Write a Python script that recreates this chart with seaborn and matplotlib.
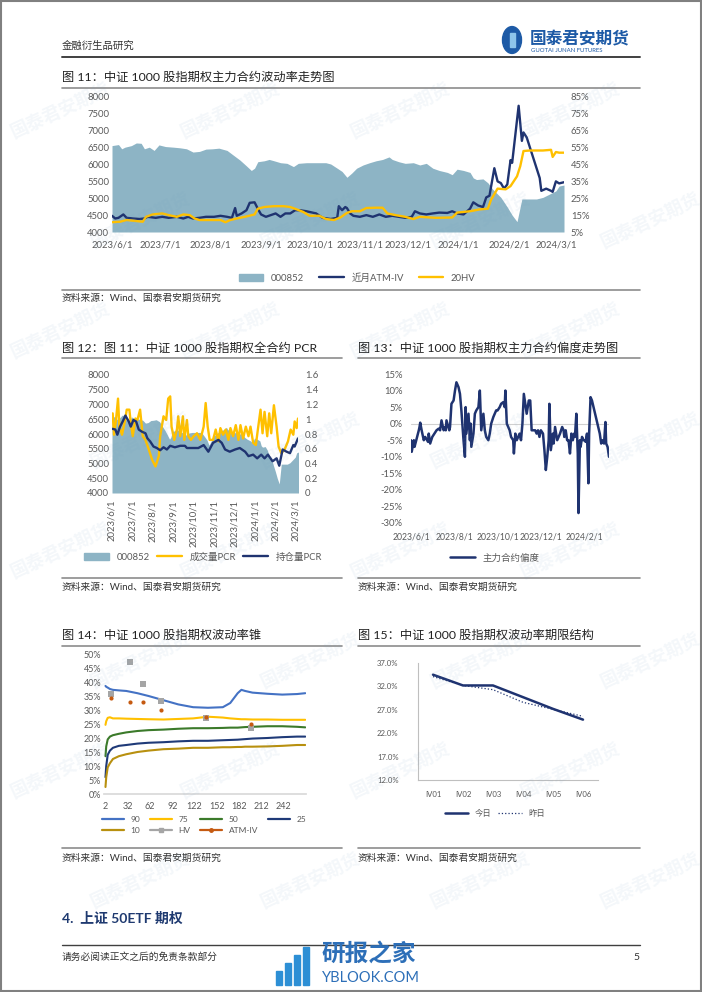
import numpy as np
import pandas as pd
import matplotlib
matplotlib.use("Agg")
import matplotlib.pyplot as plt
from matplotlib.patches import Patch, Circle, Rectangle
from matplotlib.lines import Line2D
from matplotlib.ticker import FuncFormatter
import seaborn as sns

sns.set_theme(style="white")
plt.rcParams["font.family"] = ["Lato", "Noto Sans CJK SC", "DejaVu Sans"]
plt.rcParams["axes.unicode_minus"] = False

# ---------------- data ----------------
# 000852 index (shared by fig 11 and fig 12)
idx_dates = ["2023-06-01", "2023-06-05", "2023-06-07", "2023-06-09", "2023-06-13", "2023-06-16", "2023-06-19", "2023-06-21", "2023-06-24", "2023-06-27", "2023-06-30",
             "2023-07-04", "2023-07-09", "2023-07-13", "2023-07-17", "2023-07-21", "2023-07-25", "2023-07-29",
             "2023-08-02", "2023-08-06", "2023-08-11", "2023-08-15", "2023-08-19", "2023-08-23", "2023-08-26", "2023-08-28", "2023-08-30",
             "2023-09-03", "2023-09-06", "2023-09-09", "2023-09-13", "2023-09-17", "2023-09-21", "2023-09-24", "2023-09-29",
             "2023-10-11", "2023-10-14", "2023-10-18", "2023-10-21", "2023-10-24", "2023-10-27", "2023-10-30",
             "2023-11-03", "2023-11-07", "2023-11-11", "2023-11-15", "2023-11-19", "2023-11-21", "2023-11-25", "2023-11-29",
             "2023-12-04", "2023-12-08", "2023-12-12", "2023-12-16", "2023-12-20", "2023-12-25", "2023-12-28", "2023-12-31",
             "2024-01-04", "2024-01-08", "2024-01-10", "2024-01-12", "2024-01-16", "2024-01-19", "2024-01-22", "2024-01-24", "2024-01-27", "2024-01-31",
             "2024-02-03", "2024-02-06", "2024-02-09", "2024-02-14", "2024-02-18", "2024-02-22", "2024-02-26",
             "2024-03-01", "2024-03-03", "2024-03-06"]
idx_vals = [6560, 6590, 6465, 6513, 6560, 6638, 6628, 6465, 6513, 6417, 6580,
            6532, 6513, 6494, 6465, 6369, 6388, 6456,
            6465, 6484, 6417, 6273, 6130, 5957, 5823, 5890, 6082,
            6110, 6150, 6110, 6053, 6034, 5938, 6034, 6053,
            6053, 6015, 5890, 5794, 5621, 5746, 5890,
            5986, 6053, 6110, 6149, 6225, 6149, 6082, 6034,
            6053, 5986, 6034, 5890, 5823, 5765, 5698, 5861,
            5823, 5765, 5602, 5554, 5573, 5458, 5266, 5170, 5026, 4739,
            4499, 4307, 4978, 4978, 4978, 5026, 5122,
            5218, 5362, 5391]

# near-month ATM implied vol (%)
iv_dates = ["2023-06-01", "2023-06-03", "2023-06-05", "2023-06-08", "2023-06-10", "2023-06-14", "2023-06-18", "2023-06-21", "2023-06-23", "2023-06-28",
            "2023-07-02", "2023-07-06", "2023-07-11", "2023-07-15", "2023-07-18", "2023-07-21", "2023-07-25", "2023-07-29",
            "2023-08-03", "2023-08-07", "2023-08-11", "2023-08-14", "2023-08-16", "2023-08-17", "2023-08-20", "2023-08-23", "2023-08-25", "2023-08-28", "2023-08-30",
            "2023-09-01", "2023-09-04", "2023-09-07", "2023-09-10", "2023-09-13", "2023-09-16", "2023-09-19", "2023-09-22", "2023-09-25", "2023-09-29",
            "2023-10-05", "2023-10-09", "2023-10-14", "2023-10-18", "2023-10-19", "2023-10-21", "2023-10-23", "2023-10-24", "2023-10-26", "2023-10-28",
            "2023-11-01", "2023-11-05", "2023-11-09", "2023-11-13", "2023-11-17", "2023-11-21", "2023-11-25", "2023-11-29",
            "2023-12-03", "2023-12-05", "2023-12-08", "2023-12-12", "2023-12-16", "2023-12-20", "2023-12-25", "2023-12-28", "2023-12-31",
            "2024-01-04", "2024-01-08", "2024-01-10", "2024-01-13", "2024-01-16", "2024-01-18", "2024-01-20", "2024-01-23", "2024-01-25", "2024-01-27", "2024-01-29", "2024-01-31",
            "2024-02-02", "2024-02-03", "2024-02-07", "2024-02-09", "2024-02-10", "2024-02-12", "2024-02-20", "2024-02-21", "2024-02-24", "2024-02-27", "2024-02-28",
            "2024-03-01", "2024-03-03", "2024-03-06"]
iv_vals = [14.6, 13.0, 13.4, 15.4, 13.4, 13.0, 12.7, 13.0, 14.0, 13.4,
           14.0, 13.4, 14.0, 13.0, 14.0, 13.0, 13.4, 14.0,
           14.0, 14.6, 14.0, 13.4, 19.2, 14.6, 16.0, 17.9, 22.3, 22.6, 18.8,
           15.4, 14.0, 15.0, 16.0, 14.0, 16.0, 16.0, 17.9, 17.9, 17.3,
           16.0, 13.4, 12.7, 13.4, 20.3, 17.9, 19.8, 19.2, 16.0, 14.6,
           14.0, 15.0, 14.0, 15.4, 14.0, 14.6, 14.0, 13.4,
           14.0, 17.3, 16.0, 15.4, 16.0, 16.5, 16.3, 17.3, 16.0,
           15.4, 18.8, 22.6, 20.7, 19.8, 25.5, 26.5, 42.8, 35.0, 34.0, 30.7, 33.2,
           47.6, 46.0, 79.8, 59.0, 64.0, 61.0, 37.0, 29.4, 30.7, 29.4, 28.8,
           35.0, 33.8, 34.5]

# 20-day historical vol (%)
hv_dates = ["2023-06-01", "2023-06-06", "2023-06-10", "2023-06-16", "2023-06-20", "2023-06-22", "2023-06-26",
            "2023-07-02", "2023-07-06", "2023-07-11", "2023-07-15", "2023-07-19", "2023-07-22", "2023-07-25", "2023-07-31",
            "2023-08-07", "2023-08-10", "2023-08-13", "2023-08-17", "2023-08-22", "2023-08-28", "2023-08-30",
            "2023-09-03", "2023-09-09", "2023-09-15", "2023-09-19", "2023-09-23", "2023-09-27",
            "2023-10-01", "2023-10-07", "2023-10-11", "2023-10-16", "2023-10-20", "2023-10-24", "2023-10-27",
            "2023-11-01", "2023-11-05", "2023-11-11", "2023-11-15", "2023-11-18", "2023-11-23", "2023-11-29",
            "2023-12-04", "2023-12-08", "2023-12-18", "2023-12-28", "2023-12-31",
            "2024-01-08", "2024-01-14", "2024-01-19", "2024-01-21", "2024-01-25", "2024-01-30",
            "2024-02-02", "2024-02-06", "2024-02-08", "2024-02-10", "2024-02-14", "2024-02-22", "2024-02-27", "2024-02-28",
            "2024-03-01", "2024-03-03", "2024-03-06"]
hv_vals = [10.8, 11.1, 12.1, 11.5, 11.1, 14.0, 15.4,
           16.0, 15.0, 14.0, 15.4, 15.0, 13.0, 12.1, 12.1,
           12.1, 10.8, 12.1, 13.0, 14.0, 15.4, 18.8,
           19.8, 20.3, 20.3, 19.8, 18.4, 16.9,
           14.6, 14.6, 12.7, 12.1, 13.6, 16.3, 17.3,
           17.3, 19.2, 19.4, 19.4, 16.0, 15.0, 14.0,
           12.7, 14.0, 13.4, 13.6, 16.5,
           17.3, 18.4, 18.8, 24.2, 30.7, 30.3,
           32.2, 38.0, 44.0, 53.0, 53.3, 53.3, 53.7, 49.5,
           52.4, 52.0, 52.0]

# PCR (fig 12)
vol_pcr_dates = ["2023-06-02", "2023-06-04", "2023-06-07", "2023-06-10", "2023-06-12", "2023-06-16", "2023-06-21", "2023-06-23", "2023-06-27", "2023-06-29",
                 "2023-07-02", "2023-07-06", "2023-07-09", "2023-07-13", "2023-07-17", "2023-07-21", "2023-07-26", "2023-07-31",
                 "2023-08-05", "2023-08-10", "2023-08-12", "2023-08-17", "2023-08-21", "2023-08-24", "2023-08-27", "2023-08-29",
                 "2023-09-02", "2023-09-06", "2023-09-08", "2023-09-11", "2023-09-15", "2023-09-17", "2023-09-21", "2023-09-23", "2023-09-27",
                 "2023-10-01", "2023-10-06", "2023-10-11", "2023-10-16", "2023-10-19", "2023-10-22", "2023-10-25", "2023-10-30",
                 "2023-11-03", "2023-11-07", "2023-11-10", "2023-11-14", "2023-11-18", "2023-11-22", "2023-11-25", "2023-11-29",
                 "2023-12-03", "2023-12-07", "2023-12-10", "2023-12-14", "2023-12-18", "2023-12-22", "2023-12-25", "2023-12-29",
                 "2024-01-02", "2024-01-05", "2024-01-09", "2024-01-12", "2024-01-15", "2024-01-19", "2024-01-22", "2024-01-25", "2024-01-29",
                 "2024-02-02", "2024-02-05", "2024-02-09", "2024-02-14", "2024-02-19", "2024-02-23", "2024-02-27", "2024-02-29",
                 "2024-03-03", "2024-03-05"]
vol_pcr = [1.08, 0.79, 0.99, 1.28, 0.90, 0.79, 1.01, 1.13, 1.13, 0.95,
           0.77, 1.01, 0.99, 1.13, 0.77, 0.72, 0.59, 0.45,
           0.36, 0.50, 0.77, 1.04, 0.99, 1.28, 1.31, 0.90,
           0.72, 0.86, 1.04, 0.77, 1.04, 0.72, 0.99, 0.77, 0.72,
           0.77, 0.81, 0.72, 0.90, 1.22, 0.90, 0.72, 0.72,
           0.86, 0.70, 0.88, 0.79, 0.86, 0.72, 0.88, 0.77,
           0.92, 0.72, 0.92, 0.74, 0.90, 0.77, 0.90, 0.68,
           0.65, 0.86, 1.13, 0.81, 1.10, 0.77, 1.08, 0.81, 1.19,
           0.90, 0.63, 0.54, 0.59, 0.70, 0.86, 0.79, 0.97,
           0.88, 1.01]
oi_pcr_dates = ["2023-06-02", "2023-06-06", "2023-06-09", "2023-06-13", "2023-06-17", "2023-06-21", "2023-06-26", "2023-06-29",
                "2023-07-03", "2023-07-07", "2023-07-11", "2023-07-16", "2023-07-21", "2023-07-24", "2023-07-28",
                "2023-08-02", "2023-08-07", "2023-08-12", "2023-08-17", "2023-08-22", "2023-08-27",
                "2023-09-03", "2023-09-11", "2023-09-18", "2023-09-21", "2023-09-28",
                "2023-10-08", "2023-10-16", "2023-10-23", "2023-10-30",
                "2023-11-07", "2023-11-12", "2023-11-17", "2023-11-24",
                "2023-12-02", "2023-12-09", "2023-12-17", "2023-12-22", "2023-12-29",
                "2024-01-04", "2024-01-10", "2024-01-15", "2024-01-20", "2024-01-27",
                "2024-02-02", "2024-02-06", "2024-02-11", "2024-02-17", "2024-02-22", "2024-02-27", "2024-02-29",
                "2024-03-05"]
oi_pcr = [0.87, 0.86, 0.79, 0.90, 0.97, 1.05, 0.97, 0.90,
          0.99, 0.97, 0.86, 0.83, 0.81, 0.74, 0.70,
          0.63, 0.61, 0.58, 0.62, 0.59, 0.64,
          0.62, 0.64, 0.64, 0.61, 0.61,
          0.61, 0.65, 0.56, 0.68,
          0.72, 0.68, 0.59, 0.56,
          0.59, 0.61, 0.56, 0.50, 0.52,
          0.47, 0.52, 0.47, 0.52, 0.43,
          0.47, 0.37, 0.59, 0.56, 0.54, 0.65, 0.63,
          0.74]

# main contract skew (fig 13, %)
skew_dates = ["2023-06-01", "2023-06-02", "2023-06-05", "2023-06-06", "2023-06-09", "2023-06-12", "2023-06-13", "2023-06-14", "2023-06-16", "2023-06-19", "2023-06-21", "2023-06-25", "2023-06-26", "2023-06-28",
              "2023-07-01", "2023-07-04", "2023-07-07", "2023-07-10", "2023-07-12", "2023-07-14", "2023-07-17", "2023-07-19", "2023-07-20", "2023-07-21", "2023-07-25", "2023-07-26", "2023-07-28", "2023-07-31",
              "2023-08-02", "2023-08-04", "2023-08-07", "2023-08-09", "2023-08-11", "2023-08-14", "2023-08-16", "2023-08-17", "2023-08-18", "2023-08-21", "2023-08-23", "2023-08-24", "2023-08-25", "2023-08-28", "2023-08-30",
              "2023-09-01", "2023-09-04", "2023-09-06", "2023-09-08", "2023-09-11", "2023-09-13", "2023-09-15", "2023-09-18", "2023-09-20", "2023-09-22", "2023-09-25", "2023-09-27", "2023-09-29",
              "2023-10-01", "2023-10-04", "2023-10-06", "2023-10-09", "2023-10-11", "2023-10-12", "2023-10-14", "2023-10-16", "2023-10-18", "2023-10-20", "2023-10-23", "2023-10-24", "2023-10-26", "2023-10-28",
              "2023-11-01", "2023-11-03", "2023-11-05", "2023-11-07", "2023-11-09", "2023-11-11", "2023-11-14", "2023-11-16", "2023-11-18", "2023-11-21", "2023-11-23", "2023-11-25", "2023-11-27", "2023-11-29",
              "2023-12-01", "2023-12-04", "2023-12-06", "2023-12-08", "2023-12-10", "2023-12-12", "2023-12-13", "2023-12-15", "2023-12-18", "2023-12-19", "2023-12-21", "2023-12-24", "2023-12-26", "2023-12-28", "2023-12-31",
              "2024-01-02", "2024-01-03", "2024-01-05", "2024-01-07", "2024-01-09", "2024-01-11", "2024-01-13", "2024-01-15", "2024-01-17", "2024-01-18", "2024-01-20", "2024-01-22", "2024-01-23", "2024-01-25", "2024-01-26", "2024-01-28", "2024-01-30",
              "2024-02-01", "2024-02-02", "2024-02-04", "2024-02-06", "2024-02-07", "2024-02-09", "2024-02-11", "2024-02-22", "2024-02-24", "2024-02-26", "2024-02-28",
              "2024-03-01", "2024-03-02", "2024-03-04", "2024-03-06"]
skew_vals = [-5, -8.5, -5, -7, -4.5, -2, -1, 0.3, -2, -5, -4, -5.5, -3, -6,
             -4, -3, -2, -1.5, -2, 1, -2, -1, -2, 1, -2, -1, 6, 7,
             10, 12.5, 11, 9, 4, -5, -10, 5, -3, 3, -5, 0, -7, -3, 3,
             4, 5, 10, -2, 3, -2, -4, -5, -3, 0, 2, 3, 4,
             4, 5, 6, 6.5, 5, 10, 0, -1, -2, -4, -5, -9, -3, -5,
             -3, -5, 0, 9, 6, 3, 7, 7, -2, -2, -2, -3, -2, -4,
             -2, -3, -8, -14, -10, -5, 6, -8, -3, -6, -1, -5, -4, -3, -1,
             -2, -4, -2, -5, -5, -9, -3, -5, -3, -4, 3, -9, -27, -5, -7, -4, -5,
             -5, -5.5, -3, -18, -3, 8, 7, -3, -6, -5, -6,
             0.5, -6, -7, -10]

# volatility cone (fig 14, %)
cone_window = [2, 3, 5, 8, 12, 20, 30, 45, 60, 80, 100, 120, 140, 160, 170, 180, 185, 190, 200, 220, 240, 260, 271]
cone_p90 = [38.6, 38.3, 38.0, 37.5, 37.2, 37.0, 36.8, 36.0, 35.0, 33.5, 32.0, 31.0, 30.8, 31.0, 32.5, 36.0, 37.2, 36.8, 36.2, 35.8, 35.5, 35.7, 36.0]
cone_p75 = [24.7, 26.0, 27.2, 27.4, 27.0, 27.0, 26.9, 26.8, 26.7, 26.6, 26.8, 27.0, 27.6, 27.3, 27.0, 26.8, 26.7, 26.7, 26.6, 26.6, 26.5, 26.5, 26.5]
cone_p50 = [13.5, 17.0, 19.5, 20.5, 21.0, 21.5, 22.0, 22.5, 22.8, 23.0, 23.3, 23.5, 23.5, 23.6, 23.7, 23.7, 23.8, 23.9, 24.0, 24.2, 24.2, 24.0, 23.8]
cone_p25 = [6.0, 10.0, 14.0, 15.5, 16.5, 17.2, 17.5, 18.0, 18.3, 18.5, 18.8, 19.0, 19.0, 19.2, 19.3, 19.4, 19.5, 19.6, 19.8, 20.0, 20.3, 20.5, 20.5]
cone_p10 = [2.5, 6.0, 9.5, 11.0, 12.5, 13.5, 14.2, 15.0, 15.5, 16.0, 16.2, 16.5, 16.5, 16.7, 16.7, 16.8, 16.8, 16.9, 16.9, 17.0, 17.2, 17.5, 17.5]
expiry_days = [10, 35, 53, 77, 138, 198]
expiry_hv = [35.6, 47.0, 39.3, 33.1, 27.0, 23.5]
expiry_atm = [34.4, 32.8, 32.8, 30.0, 27.4, 25.0]

# term structure (fig 15, %)
terms = ["IV01", "IV02", "IV03", "IV04", "IV05", "IV06"]
term_today = [34.5, 32.2, 32.2, 29.7, 27.2, 24.9]
term_yday = [34.1, 32.2, 31.3, 28.6, 27.1, 25.6]

# ---------------- style ----------------
AREA = "#8db4c5"
NAVY = "#1f3370"
GOLD = "#ffc000"
GRAY = "#595959"
LINE = "#8c8c8c"
TS = 6.8

W, H = 702, 992
fig = plt.figure(figsize=(W / 100, H / 100), dpi=100)
fig.patch.set_facecolor("white")


def box(l, t, r, b):
    return [l / W, 1 - b / H, (r - l) / W, (b - t) / H]


def txt(x, y, s, **kw):
    kw.setdefault("va", "center")
    fig.text(x / W, 1 - y / H, s, **kw)


def hline(x0, x1, y, lw=1.2, color=LINE):
    fig.add_artist(Line2D([x0 / W, x1 / W], [1 - y / H, 1 - y / H], lw=lw, color=color))


def style(ax, size=TS):
    for s in ax.spines.values():
        s.set_visible(False)
    ax.tick_params(length=0, labelsize=size, colors=GRAY, pad=2)
    ax.set_xlabel("")
    ax.set_ylabel("")
    ax.grid(False)
    ax.patch.set_alpha(0)


def datefmt(x, pos=None):
    d = matplotlib.dates.num2date(x)
    return f"{d.year}/{d.month}/{d.day}"


months = pd.date_range("2023-06-01", "2024-03-01", freq="MS")
x0, x1 = pd.Timestamp("2023-06-01"), pd.Timestamp("2024-03-06")

# page frame
fig.add_artist(Rectangle((0.001, 0.001), 0.998, 0.998, transform=fig.transFigure, fill=False, lw=1.5, ec="#808080"))

# header
txt(62, 46, "金融衍生品研究", fontsize=7.5, color="#333333")
fig.add_artist(Circle((512 / W, 1 - 40 / H), 9.5 / W, transform=fig.transFigure, color="#1d5aa6"))
fig.add_artist(Rectangle((510 / W, 1 - 47 / H), 5 / W, 14 / H, transform=fig.transFigure, color="#8ec5ea"))
txt(530, 38, "国泰君安期货", fontsize=12, color="#1d5aa6", fontweight="bold")
txt(531, 51, "GUOTAI JUNAN FUTURES", fontsize=4.3, color="#1d5aa6")
hline(62, 640, 57, lw=1.4, color="#404040")

# ---------------- fig 11 ----------------
txt(62, 77, "图 11：中证 1000 股指期权主力合约波动率走势图", fontsize=8.8, color="#222222")
hline(62, 640, 88)
ax1 = fig.add_axes(box(112, 97, 564, 232))
ax1.fill_between(pd.to_datetime(idx_dates), idx_vals, 4000, color=AREA, lw=0)
ax1.set_ylim(4000, 8000)
ax1.set_yticks(np.arange(4000, 8001, 500))
ax1.set_xlim(x0, x1)
ax1.set_xticks(months)
ax1.xaxis.set_major_formatter(FuncFormatter(datefmt))
style(ax1)
ax1.tick_params(axis="x", pad=6)
ax1r = ax1.twinx()
sns.lineplot(x=pd.to_datetime(iv_dates), y=iv_vals, ax=ax1r, color=NAVY, lw=1.7, estimator=None)
sns.lineplot(x=pd.to_datetime(hv_dates), y=hv_vals, ax=ax1r, color=GOLD, lw=1.7, estimator=None)
ax1r.set_ylim(5, 85)
ax1r.set_yticks(np.arange(5, 86, 10))
ax1r.yaxis.set_major_formatter(FuncFormatter(lambda v, p: f"{v:.0f}%"))
ax1r.set_xlim(x0, x1)
style(ax1r)
ax1r.tick_params(axis="y", pad=5)
fig.legend(handles=[Patch(color=AREA, label="000852"),
                    Line2D([], [], color=NAVY, lw=1.7, label="近月ATM-IV"),
                    Line2D([], [], color=GOLD, lw=1.7, label="20HV")],
           loc="center", bbox_to_anchor=(357 / W, 1 - 278 / H), ncol=3, frameon=False,
           fontsize=TS, labelcolor=GRAY, handlelength=2.6, handleheight=0.7, columnspacing=1.6)
hline(62, 640, 290)
txt(62, 298, "资料来源：Wind、国泰君安期货研究", fontsize=7, color="#333333")

# ---------------- fig 12 ----------------
txt(62, 348, "图 12：图 11：中证 1000 股指期权全合约 PCR", fontsize=8.8, color="#222222")
hline(62, 342, 358)
ax2 = fig.add_axes(box(112, 375, 298, 493))
ax2.fill_between(pd.to_datetime(idx_dates), idx_vals, 4000, color=AREA, lw=0)
ax2.set_ylim(4000, 8000)
ax2.set_yticks(np.arange(4000, 8001, 500))
ax2.set_xlim(x0, pd.Timestamp("2024-03-05"))
ax2.set_xticks(months)
ax2.set_xticklabels([datefmt(matplotlib.dates.date2num(m)) for m in months], rotation=90)
style(ax2)
ax2.tick_params(axis="x", pad=5)
ax2r = ax2.twinx()
sns.lineplot(x=pd.to_datetime(vol_pcr_dates), y=vol_pcr, ax=ax2r, color=GOLD, lw=1.7, estimator=None)
sns.lineplot(x=pd.to_datetime(oi_pcr_dates), y=oi_pcr, ax=ax2r, color=NAVY, lw=1.7, estimator=None)
ax2r.set_ylim(0, 1.6)
ax2r.set_yticks(np.arange(0, 1.61, 0.2))
ax2r.yaxis.set_major_formatter(FuncFormatter(lambda v, p: f"{v:g}"))
ax2r.set_xlim(x0, pd.Timestamp("2024-03-05"))
style(ax2r)
ax2r.tick_params(axis="y", pad=5)
fig.legend(handles=[Patch(color=AREA, label="000852"),
                    Line2D([], [], color=GOLD, lw=1.7, label="成交量PCR"),
                    Line2D([], [], color=NAVY, lw=1.7, label="持仓量PCR")],
           loc="center", bbox_to_anchor=(203 / W, 1 - 557 / H), ncol=3, frameon=False,
           fontsize=TS, labelcolor=GRAY, handlelength=2.6, handleheight=0.7, columnspacing=0.8)
hline(62, 342, 578)
txt(62, 587, "资料来源：Wind、国泰君安期货研究", fontsize=7, color="#333333")

# ---------------- fig 13 ----------------
txt(358, 348, "图 13：中证 1000 股指期权主力合约偏度走势图", fontsize=8.8, color="#222222")
hline(358, 640, 358)
ax3 = fig.add_axes(box(411, 374, 609, 523))
ax3.axhline(0, color="#d0d0d0", lw=0.8)
sns.lineplot(x=pd.to_datetime(skew_dates), y=skew_vals, ax=ax3, color=NAVY, lw=1.8, estimator=None)
ax3.set_ylim(-30, 15)
ax3.set_yticks(np.arange(-30, 16, 5))
ax3.yaxis.set_major_formatter(FuncFormatter(lambda v, p: f"{v:.0f}%"))
ax3.set_xlim(x0, x1)
ax3.set_xticks(pd.date_range("2023-06-01", "2024-02-01", freq="2MS"))
ax3.xaxis.set_major_formatter(FuncFormatter(datefmt))
style(ax3)
ax3.tick_params(axis="x", pad=7, labelsize=6.2)
ax3.tick_params(axis="y", pad=6)
fig.legend(handles=[Line2D([], [], color=NAVY, lw=1.8, label="主力合约偏度")],
           loc="center", bbox_to_anchor=(495 / W, 1 - 558 / H), frameon=False,
           fontsize=TS, labelcolor=GRAY, handlelength=2.6)
hline(358, 640, 578)
txt(358, 587, "资料来源：Wind、国泰君安期货研究", fontsize=7, color="#333333")

# ---------------- fig 14 ----------------
txt(62, 635, "图 14：中证 1000 股指期权波动率锥", fontsize=8.8, color="#222222")
hline(62, 342, 646)
ax4 = fig.add_axes(box(104, 654, 306, 794))
cone_cols = {"90": "#4472c4", "75": "#ffc000", "50": "#3b7a2a", "25": "#1f3a78", "10": "#b8900f"}
cone_lines = {"90": cone_p90, "75": cone_p75, "50": cone_p50, "25": cone_p25, "10": cone_p10}
for k, v in cone_lines.items():
    sns.lineplot(x=cone_window, y=v, ax=ax4, color=cone_cols[k], lw=1.5, estimator=None)
sns.scatterplot(x=expiry_days, y=expiry_hv, ax=ax4, color="#a5a5a5", marker="s", s=22, linewidth=0, zorder=5)
sns.scatterplot(x=expiry_days, y=expiry_atm, ax=ax4, color="#c55a11", marker="o", s=9, linewidth=0, zorder=6)
ax4.set_ylim(0, 50)
ax4.set_yticks(np.arange(0, 51, 5))
ax4.yaxis.set_major_formatter(FuncFormatter(lambda v, p: f"{v:.0f}%"))
ax4.set_xlim(0, 272)
ax4.set_xticks(np.arange(2, 243, 30))
style(ax4, size=6.5)
ax4.spines["bottom"].set_visible(True)
ax4.spines["bottom"].set_color("#d9d9d9")
ax4.tick_params(axis="x", pad=6)
h4 = {k: Line2D([], [], color=cone_cols[k], lw=1.6, label=k) for k in cone_cols}
h_hv = Line2D([], [], color="#a5a5a5", lw=1.6, marker="s", ms=3.5, label="HV")
h_atm = Line2D([], [], color="#c55a11", lw=1.6, marker="o", ms=2.5, label="ATM-IV")
fig.legend(handles=[h4["90"], h4["10"], h4["75"], h_hv, h4["50"], h_atm, h4["25"]],
           loc="center", bbox_to_anchor=(204 / W, 1 - 825 / H), ncol=4, frameon=False,
           fontsize=6, labelcolor=GRAY, handlelength=2.6, columnspacing=1.2, labelspacing=0.5)
hline(62, 342, 848)
txt(62, 858, "资料来源：Wind、国泰君安期货研究", fontsize=7, color="#333333")

# ---------------- fig 15 ----------------
txt(358, 635, "图 15：中证 1000 股指期权波动率期限结构", fontsize=8.8, color="#222222")
hline(358, 640, 646)
ax5 = fig.add_axes(box(418, 663, 598, 780))
pos = np.arange(len(terms))
sns.lineplot(x=pos, y=term_today, ax=ax5, color=NAVY, lw=1.8, estimator=None)
sns.lineplot(x=pos, y=term_yday, ax=ax5, color=NAVY, lw=0.9, ls=":", estimator=None)
ax5.set_ylim(12, 37)
ax5.set_yticks(np.arange(12, 37.1, 5))
ax5.yaxis.set_major_formatter(FuncFormatter(lambda v, p: f"{v:.1f}%"))
ax5.set_xlim(-0.5, 5.5)
ax5.set_xticks(pos)
ax5.set_xticklabels(terms)
style(ax5, size=5.6)
for s in ("left", "bottom"):
    ax5.spines[s].set_visible(True)
    ax5.spines[s].set_color("#bfbfbf")
    ax5.spines[s].set_linewidth(0.8)
ax5.set_xticks(np.arange(-0.5, 5.6, 1), minor=True)
ax5.tick_params(axis="x", which="minor", length=3, color="#bfbfbf")
ax5.tick_params(axis="x", pad=8)
ax5.tick_params(axis="y", pad=14)
fig.legend(handles=[Line2D([], [], color=NAVY, lw=1.8, label="今日"),
                    Line2D([], [], color=NAVY, lw=0.9, ls=":", label="昨日")],
           loc="center", bbox_to_anchor=(495 / W, 1 - 813 / H), ncol=2, frameon=False,
           fontsize=6, labelcolor=GRAY, handlelength=2.8, columnspacing=0.8)
hline(358, 640, 848)
txt(358, 858, "资料来源：Wind、国泰君安期货研究", fontsize=7, color="#333333")

# ---------------- section + footer ----------------
txt(62, 918, "4.  上证 50ETF 期权", fontsize=10, color="#1f3a70", fontweight="bold")
hline(62, 640, 945, lw=1.0, color="#404040")
txt(62, 957, "请务必阅读正文之后的免责条款部分", fontsize=7, color="#333333")
txt(633, 957, "5", fontsize=7.5, color="#333333")
for i, hgt in enumerate([14, 22, 30, 38]):
    fig.add_artist(Rectangle(((276 + i * 9) / W, 1 - 985 / H), 6 / W, hgt / H,
                             transform=fig.transFigure, color="#2d8fd5"))
txt(321, 953, "研报之家", fontsize=17, color="#2d6fb8", fontweight="bold")
txt(322, 978, "YBLOOK.COM", fontsize=10.5, color="#2d6fb8")

# faint company watermark
for row, wy in enumerate(range(110, 950, 110)):
    for wx in range(60 + (row % 2) * 80, 700, 170):
        txt(wx, wy, "国泰君安期货", fontsize=13, color="#6f9cc4", alpha=0.08,
            rotation=25, ha="center", fontweight="bold")

fig.savefig("out.png", dpi=100)
